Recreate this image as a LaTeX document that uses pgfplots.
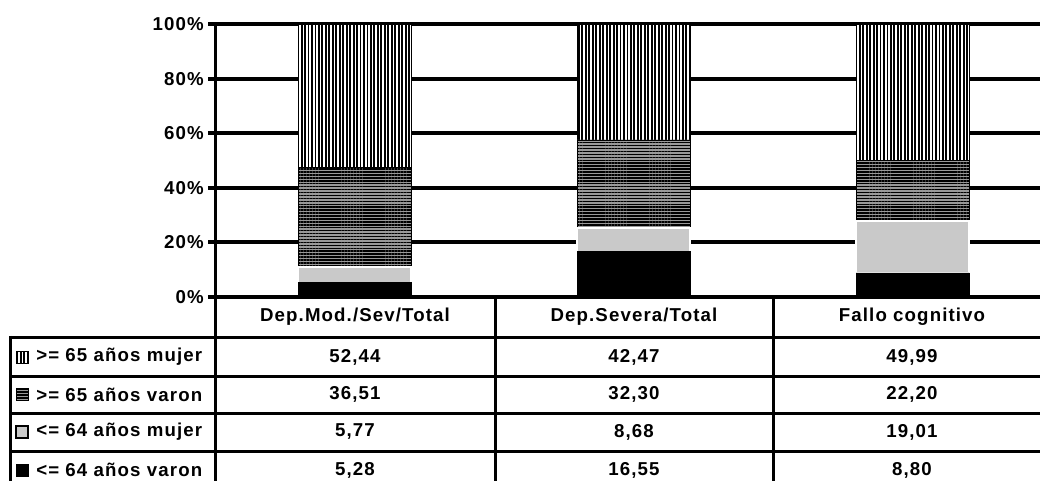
\documentclass[border=0pt]{standalone}
\usepackage{fontspec}
\setmainfont{Liberation Sans}[LetterSpace=6]
\usepackage{pgfplots}
\pgfplotsset{compat=1.18}
\usetikzlibrary{patterns.meta}
\tikzset{
 s1/.style={fill=black, draw=black, line width=0.6pt},
 s2/.style={fill=gray!42, draw=white, line width=1pt},
 s3/.style={fill=gray!80, draw=black, line width=0.6pt, postaction={pattern={Lines[angle=0,distance=2.2pt,line width=1.1pt]}, pattern color=black}},
 s4/.style={fill=white, draw=black, line width=0.6pt, postaction={pattern={Lines[angle=90,distance=2.6pt,line width=1.4pt]}, pattern color=black}},
}
\newcommand{\tf}{\fontsize{14}{16}\selectfont\bfseries}
\begin{document}
\begin{tikzpicture}
\begin{axis}[
  at={(161.25pt,137.25pt)}, anchor=south west,
  scale only axis, width=627.75pt, height=204.75pt,
  ybar stacked, bar width=0.405,
  xmin=-0.5, xmax=2.5, ymin=0, ymax=100,
  xtick=\empty,
  ytick={0,20,40,60,80,100},
  yticklabels={0\%,20\%,40\%,60\%,80\%,100\%},
  axis x line=none,
  axis y line*=left,
  every outer y axis line/.append style={-},
  y axis line style={-, line width=2.25pt},
  ymajorgrids, major grid style={line width=3pt, black},
  tick align=outside, major tick length=5pt, ytick style={line width=3pt, black},
  tick label style={font=\tf},
  clip=false,
]
\addplot[s1] coordinates {(0,5.28) (1,16.55) (2,8.80)};
\addplot[s2] coordinates {(0,5.77) (1,8.68) (2,19.01)};
\addplot[s3] coordinates {(0,36.51) (1,32.30) (2,22.20)};
\addplot[s4] coordinates {(0,52.44) (1,42.47) (2,49.99)};
\end{axis}
\begin{scope}[shift={(0,360pt)}, x=0.75pt, y=-0.75pt]
 \begin{scope}[line width=2.25pt]
 \draw (215,297) -- (1060,297);
 \foreach \y in {337,376,413,451} \draw (10,\y) -- (1060,\y);
 \foreach \x in {215,495,773} \draw (\x,297) -- (\x,495);
 \draw (10,335.9) -- (10,495);
 \end{scope}
 \node[font=\tf] at (355,317) {Dep.Mod./Sev/Total};
 \node[font=\tf] at (634,317) {Dep.Severa/Total};
 \node[font=\tf] at (912,317) {Fallo cognitivo};
 % rows
 \foreach \yy/\st/\lab/\a/\b/\c in {
   357/s4/{>= 65 años mujer}/{52,44}/{42,47}/{49,99},
   394.5/s3/{>= 65 años varon}/{36,51}/{32,30}/{22,20},
   432/s2/{<= 64 años mujer}/{5,77}/{8,68}/{19,01},
   470/s1/{<= 64 años varon}/{5,28}/{16,55}/{8,80}} {
   \node[font=\tf, anchor=west, inner sep=0pt] at (36,\yy) {\lab};
   \node[font=\tf] at (355,\yy) {\a};
   \node[font=\tf] at (634,\yy) {\b};
   \node[font=\tf] at (912,\yy) {\c};
 }
 \path[s4] (16,351) rectangle (28,363);
 \path[s3] (16,388.5) rectangle (28,400.5);
 \path[fill=gray!42, draw=black, line width=0.8pt] (16,426) rectangle (28,438);
 \path[s1] (16,464) rectangle (28,476);
\end{scope}
\pgfresetboundingbox
\path[use as bounding box] (0,0) rectangle (780pt,360pt);
\end{tikzpicture}
\end{document}
